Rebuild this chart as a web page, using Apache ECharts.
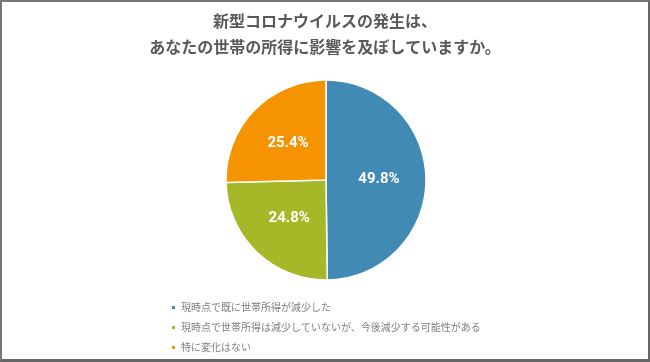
<!DOCTYPE html>
<html><head><meta charset="utf-8">
<script src="https://cdn.jsdelivr.net/npm/echarts@6/dist/echarts.min.js"></script>
<style>
html,body{margin:0;padding:0;background:#fff;}
#wrap{position:absolute;left:0;top:0;width:646px;height:357px;border-left:2px solid #777;border-top:2px solid #777;border-right:2px solid #666;border-bottom:3px solid #666;}
#c{width:646px;height:357px;}
</style></head>
<body><div id="wrap"><div id="c"></div></div>
<script>
const titleLines = ['新型コロナウイルスの発生は、', 'あなたの世帯の所得に影響を及ぼしていますか。'];
const categories = ['現時点で既に世帯所得が減少した', '現時点で世帯所得は減少していないが、今後減少する可能性がある', '特に変化はない'];
const values = [49.8, 24.8, 25.4];
const colors = ['#418AB3', '#A6B727', '#F59300'];

const chart = echarts.init(document.getElementById('c'), null, {renderer:'canvas'});
const ff = '"Noto Sans CJK JP", "Noto Sans", sans-serif';
chart.setOption({
  animation:false,
  color: colors,
  title: {
    text: titleLines.join('\n'),
    left: 'center', top: 6,
    padding: 0,
    textStyle: {fontFamily: ff, fontSize: 16, fontWeight: 'bold', color: '#595959', lineHeight: 26}
  },
  legend: {
    orient: 'vertical', left: 168, top: 299,
    padding: 0,
    itemWidth: 5, itemHeight: 5, itemGap: 7,
    icon: 'rect',
    textStyle: {fontFamily: ff, fontSize: 10, color: '#7F7F7F', lineHeight: 13},
    data: categories
  },
  series: [{
    type: 'pie',
    center: [324, 178],
    radius: [0, 100],
    startAngle: 90,
    clockwise: true,
    itemStyle: {borderColor: '#fff', borderWidth: 1.5},
    label: {
      show: true, position: 'inside',
      formatter: p => p.value.toFixed(1) + '%',
      color: '#fff', fontSize: 15, fontWeight: 'bold', fontFamily: 'Roboto, "Noto Sans", sans-serif'
    },
    labelLine: {show: false},
    data: categories.map((c, i) => ({name: c, value: values[i]}))
  }]
});
</script></body></html>
